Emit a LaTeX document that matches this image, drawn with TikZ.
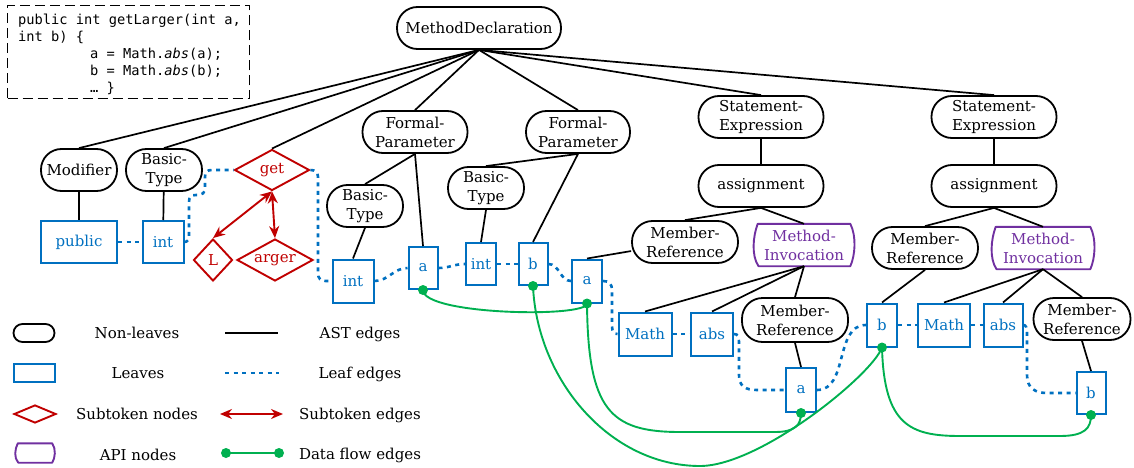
\documentclass[tikz,border=0pt]{standalone}
\usepackage{fontspec}
\setmainfont{DejaVu Serif}
\newfontfamily\codefont{DejaVu Sans Mono}
\usetikzlibrary{shapes.geometric,arrows.meta,calc}
\definecolor{leafblue}{HTML}{0070C0}
\definecolor{subred}{HTML}{C00000}
\definecolor{apipurple}{HTML}{7030A0}
\definecolor{flowgreen}{HTML}{00B050}
\newcommand\fs{\fontsize{15}{19}\selectfont}
\newcommand\apiborder[2]{%
 \draw[apiline]
 ($(#1.north west)+(0.6*#2,0)$) -- ($(#1.north east)+(-0.6*#2,0)$)
 .. controls ($(#1.north east)!0.3!(#1.south east)+(#2,0)$) and ($(#1.north east)!0.75!(#1.south east)+(0.6*#2,0)$) .. ($(#1.south east)+(-0.6*#2,0)$)
 -- ($(#1.south west)+(0.8*#2,0)$)
 .. controls ($(#1.north west)!0.75!(#1.south west)+(-#2,0)$) and ($(#1.north west)!0.3!(#1.south west)+(-0.6*#2,0)$) .. ($(#1.north west)+(0.6*#2,0)$) -- cycle;}
\tikzset{
 every node/.style={font=\fs},
 nl/.style={rectangle, rounded corners=20.5pt, draw=black, line width=1.8pt, minimum height=42pt, inner sep=0pt, align=center},
 leaf/.style={rectangle, draw=leafblue, line width=2pt, text=leafblue, minimum height=42pt, inner sep=0pt},
 subtok/.style={diamond, draw=subred, line width=1.9pt, text=subred, inner sep=0pt, aspect=1.8},
 api/.style={rectangle, text=apipurple, minimum height=42pt, inner sep=0pt, align=center},
 apiline/.style={draw=apipurple, line width=1.9pt, line join=round},
 ast/.style={line width=1.7pt},
 leafedge/.style={leafblue, line width=2.6pt, dash pattern=on 4pt off 4.5pt},
 subedge/.style={subred, line width=1.9pt, {Stealth[length=12pt,width=10pt]}-{Stealth[length=12pt,width=10pt]}},
 flow/.style={flowgreen, line width=1.9pt},
 codeline/.style={anchor=base west, inner sep=0pt, font=\codefont\fontsize{13.7}{17}\selectfont},
}
\begin{document}
\begin{tikzpicture}[x=1pt,y=-1pt]
\useasboundingbox (0,0) rectangle (1134,468);
% code box
\node[draw, line width=1.6pt, dash pattern=on 10pt off 5pt, minimum width=242pt, minimum height=93pt, inner sep=0pt] (codebox) at (128.5,52) {};
\node[codeline] (c1) at (18,25) {public int getLarger(int a,};
\node[codeline] (c2) at (18,42) {int b) \{};
\node[codeline] (c3) at (90,59) {a = Math.\textit{abs}(a);};
\node[codeline] (c4) at (90,76) {b = Math.\textit{abs}(b);};
\node[codeline] (c5) at (90,93) {… \}};
% non-leaf nodes
\node[nl, minimum width=164pt] (md) at (479,28) {MethodDeclaration};
\node[nl, minimum width=76pt] (mod) at (79,170) {Modifier};
\node[nl, minimum width=76pt] (bt1) at (164,170) {Basic-\\Type};
\node[nl, minimum width=105pt] (fp1) at (415,132) {Formal-\\Parameter};
\node[nl, minimum width=104pt] (fp2) at (578,132) {Formal-\\Parameter};
\node[nl, minimum width=76pt] (bt2) at (365,206) {Basic-\\Type};
\node[nl, minimum width=76pt] (bt3) at (486,188) {Basic-\\Type};
\node[nl, minimum width=125pt] (se1) at (761,117) {Statement-\\Expression};
\node[nl, minimum width=125pt] (as1) at (761,186) {assignment};
\node[nl, minimum width=106pt] (mr1) at (685,242) {Member-\\Reference};
\node[nl, minimum width=125pt] (se2) at (994,117) {Statement-\\Expression};
\node[nl, minimum width=125pt] (as2) at (994,186) {assignment};
\node[nl, minimum width=106pt] (mr2) at (925,248) {Member-\\Reference};
\node[nl, minimum width=106pt, minimum height=44pt] (mr3) at (795,320) {Member-\\Reference};
\node[nl, minimum width=97pt] (mr4) at (1082,319) {Member-\\Reference};
% api nodes
\node[api, minimum width=97pt] (mi1) at (804,245) {Method-\\Invocation};
\apiborder{mi1}{4}
\node[api, minimum width=99pt] (mi2) at (1043,248) {Method-\\Invocation};
\apiborder{mi2}{4}
% subtoken nodes
\node[subtok, minimum width=75pt, minimum height=41pt] (get) at (272,170) {get};
\node[subtok, minimum width=39pt, minimum height=42pt] (sl) at (213,260) {L};
\node[subtok, minimum width=76pt, minimum height=42pt] (sarger) at (275,260) {arger};
% leaves
\node[leaf, minimum width=76pt] (public) at (79,242) {public};
\node[leaf, minimum width=41pt] (int1) at (163,242) {int};
\node[leaf, minimum width=41pt, minimum height=43pt] (int3) at (353,281) {int};
\node[leaf, minimum width=29pt] (a1) at (423,268) {a};
\node[leaf, minimum width=30pt] (int4) at (481,264) {int};
\node[leaf, minimum width=29pt] (b1) at (533,264) {b};
\node[leaf, minimum width=30pt, minimum height=43pt] (a2) at (587,281) {a};
\node[leaf, minimum width=53pt, minimum height=43pt] (math1) at (645,334) {Math};
\node[leaf, minimum width=42pt, minimum height=43pt] (abs1) at (712,334) {abs};
\node[leaf, minimum width=30pt, minimum height=44pt] (a3) at (801,390) {a};
\node[leaf, minimum width=30pt, minimum height=43pt] (b2) at (882,325) {b};
\node[leaf, minimum width=52pt, minimum height=43pt] (math2) at (944,325) {Math};
\node[leaf, minimum width=39pt, minimum height=43pt] (abs2) at (1003,325) {abs};
\node[leaf, minimum width=29pt] (b3) at (1091,393) {b};
% AST edges
\foreach \t in {mod,bt1,get,fp1,fp2,se1,se2} \draw[ast] (md.south) -- (\t.north);
\draw[ast] (mod) -- (public);
\draw[ast] (bt1) -- (int1);
\draw[ast] (fp1.south) -- (bt2.north);
\draw[ast] (fp1.south) -- (a1.north);
\draw[ast] (fp2.south) -- (bt3.north);
\draw[ast] (fp2.south) -- (b1.north);
\draw[ast] (bt2.south) -- (int3.north);
\draw[ast] (bt3.south) -- (int4.north);
\draw[ast] (se1) -- (as1);
\draw[ast] (as1.south) -- (mr1.north);
\draw[ast] (as1.south) -- (mi1.north);
\draw[ast] (mr1) -- (a2.north);
\draw[ast] (mi1.south) -- (math1.north);
\draw[ast] (mi1.south) -- (abs1.north);
\draw[ast] (mi1.south) -- (mr3.north);
\draw[ast] (mr3.south) -- (a3.north);
\draw[ast] (se2) -- (as2);
\draw[ast] (as2.south) -- (mr2.north);
\draw[ast] (as2.south) -- (mi2.north);
\draw[ast] (mr2.south) -- (b2.north);
\draw[ast] (mi2.south) -- (math2.north);
\draw[ast] (mi2.south) -- (abs2.north);
\draw[ast] (mi2.south) -- (mr4.north);
\draw[ast] (mr4.south) -- (b3.north);
% subtoken edges
\draw[subedge] (get.south) -- (sl.north);
\draw[subedge] (get.south) -- (sarger.north);
% leaf edges
\draw[leafedge] (public) -- (int1);
\draw[leafedge] (int1.east) .. controls (188,242) and (189,239) .. (189,235) -- (189,202) .. controls (189,197) and (191,195) .. (196,195) .. controls (203,195) and (205,193) .. (205,187) -- (205,177) .. controls (205,172) and (207,170) .. (212,170) -- (get.west);
\draw[leafedge] (get.east) .. controls (315,170) and (318,172) .. (318,177) -- (318,273) .. controls (318,279) and (321,281) .. (326,281) -- (int3.west);
\draw[leafedge] (int3.east) to[out=0,in=180] (a1.west);
\draw[leafedge] (a1.east) to[out=0,in=180] (int4.west);
\draw[leafedge] (int4) -- (b1);
\draw[leafedge] (b1.east) to[out=0,in=180] (a2.west);
\draw[leafedge] (a2.east) .. controls (609,281) and (612,284) .. (612,290) -- (612,326) .. controls (612,332) and (614,334) .. (math1.west);
\draw[leafedge] (math1) -- (abs1);
\draw[leafedge] (abs1.east) .. controls (738,334) and (739,337) .. (739,342) -- (739,375) .. controls (739,386) and (745,390) .. (757,390) -- (a3.west);
\draw[leafedge] (a3.east) to[out=0,in=180] (b2.west);
\draw[leafedge] (b2) -- (math2);
\draw[leafedge] (math2) -- (abs2);
\draw[leafedge] (abs2.east) .. controls (1026,325) and (1027,328) .. (1027,333) -- (1027,375) .. controls (1027,388) and (1035,393) .. (1047,393) -- (b3.west);
% data flow edges
\draw[flow] (a1.south) .. controls (423,315) and (587,318) .. (a2.south);
\draw[flow] (a2.south) .. controls (588,410) and (610,432) .. (680,432) -- (775,432) .. controls (795,432) and (801,425) .. (a3.south);
\draw[flow] (b1.south) .. controls (537,380) and (610,466) .. (700,466) .. controls (760,466) and (872,375) .. (b2.south);
\draw[flow] (b2.south) .. controls (884,425) and (910,436) .. (960,436) -- (1060,436) .. controls (1085,436) and (1091,428) .. (b3.south);
\foreach \n in {a1,a2,a3,b1,b2,b3} \fill[flowgreen] (\n.south) circle (5pt);
% legend
\node[nl, minimum width=41pt, minimum height=18pt, rounded corners=9pt] (lgnl) at (34,333) {};
\node (lgnlt) at (137,333) {Non-leaves};
\node[leaf, minimum width=41pt, minimum height=18pt] (lgleaf) at (34,373) {};
\node (lgleaft) at (138,373) {Leaves};
\node[subtok, minimum width=42pt, minimum height=18pt] (lgsub) at (35,414) {};
\node (lgsubt) at (137,414) {Subtoken nodes};
\node[api, minimum width=37pt, minimum height=19pt] (lgapi) at (35,453) {};
\apiborder{lgapi}{2.5}
\node (lgapit) at (138,455) {API nodes};
\coordinate (la1) at (225,333); \coordinate (la2) at (278,333);
\draw[ast] (la1) -- (la2);
\node (lgastt) at (360,334) {AST edges};
\coordinate (ll1) at (225,373); \coordinate (ll2) at (279,373);
\draw[leafedge] (ll1) -- (ll2);
\node (lgleafet) at (360,374) {Leaf edges};
\coordinate (ls1) at (220,414); \coordinate (ls2) at (283,414);
\draw[subedge] (ls1) -- (ls2);
\node (lgsubet) at (360,415) {Subtoken edges};
\coordinate (lf1) at (226,453); \coordinate (lf2) at (279,453);
\draw[flow] (lf1) -- (lf2);
\fill[flowgreen] (lf1) circle (5pt);
\fill[flowgreen] (lf2) circle (5pt);
\node (lgflowt) at (360,455) {Data flow edges};
\end{tikzpicture}
\end{document}
